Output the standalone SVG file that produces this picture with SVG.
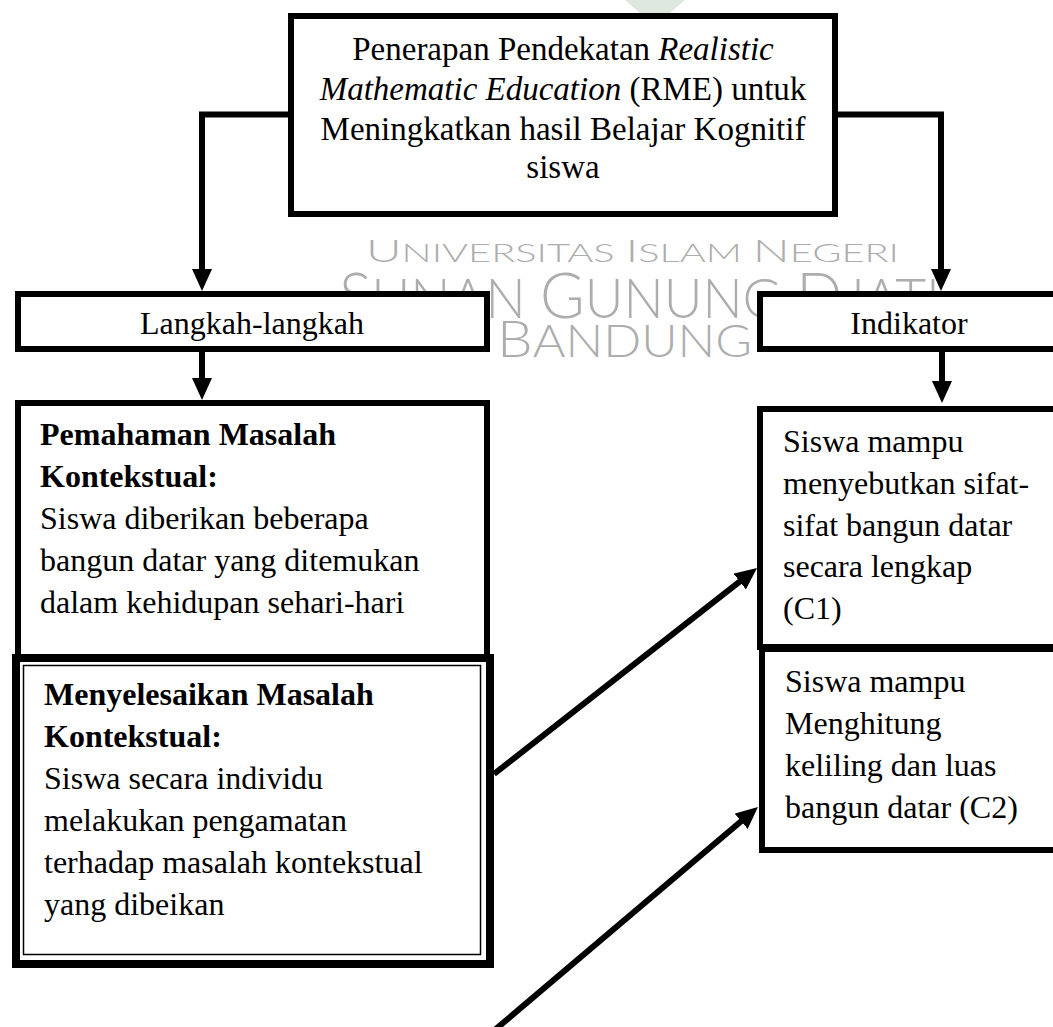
<svg xmlns="http://www.w3.org/2000/svg" width="1053" height="1027" viewBox="0 0 1053 1027">
<defs>
<style>
.box{fill:#fff;stroke:#000;stroke-width:6}
.thin{fill:none;stroke:#000;stroke-width:1.5}
.t{font-family:"Liberation Serif","Times New Roman",serif;font-size:32px;fill:#000}
.tt{font-size:33px}
.b{font-weight:bold}
.i{font-style:italic}
.c{text-anchor:middle}
.wm{font-family:Lato,"Liberation Sans",sans-serif;font-weight:300;fill:#adadad}
.conn{fill:none;stroke:#000;stroke-width:6;stroke-linejoin:miter}
</style>
<marker id="ah" markerUnits="userSpaceOnUse" markerWidth="22" markerHeight="20" refX="10" refY="10" orient="auto" viewBox="0 0 22 20"><path d="M0,0 L22,10 L0,20 z" fill="#000"/></marker>
</defs>
<rect width="1053" height="1027" fill="#fff"/>
<g id="watermark">
<path d="M625,0 H685 L670,13 H640 Z" fill="#dfe8df"/>
<text class="wm" x="366" y="262" textLength="533" lengthAdjust="spacingAndGlyphs"><tspan font-size="32">U</tspan><tspan font-size="26">NIVERSITAS </tspan><tspan font-size="32">I</tspan><tspan font-size="26">SLAM </tspan><tspan font-size="32">N</tspan><tspan font-size="26">EGERI</tspan></text>
<text class="wm" x="339" y="318" textLength="601" lengthAdjust="spacingAndGlyphs"><tspan font-size="64">S</tspan><tspan font-size="56">UNAN </tspan><tspan font-size="64">G</tspan><tspan font-size="56">UNUNG </tspan><tspan font-size="64">D</tspan><tspan font-size="56">JATI</tspan></text>
<text class="wm" x="497" y="357" textLength="255" lengthAdjust="spacingAndGlyphs"><tspan font-size="52">B</tspan><tspan font-size="46">ANDUNG</tspan></text>
</g>
<g id="node-judul">
<rect class="box" x="291" y="16" width="544" height="198"/>
<text class="t tt c" x="563" y="60">Penerapan Pendekatan <tspan class="i">Realistic</tspan></text>
<text class="t tt c" x="563" y="100"><tspan class="i">Mathematic Education</tspan> (RME) untuk</text>
<text class="t tt c" x="563" y="140">Meningkatkan hasil Belajar Kognitif</text>
<text class="t tt c" x="563" y="178">siswa</text>
</g>
<g id="node-langkah">
<rect class="box" x="18" y="294" width="469" height="55"/>
<text class="t c" x="252" y="334">Langkah-langkah</text>
</g>
<g id="node-indikator">
<rect class="box" x="760" y="294" width="300" height="55"/>
<text class="t c" x="909" y="334">Indikator</text>
</g>
<g id="node-pemahaman">
<rect class="box" x="18" y="403" width="469" height="254"/>
<text class="t b" x="40" y="445">Pemahaman Masalah</text>
<text class="t b" x="40" y="487">Kontekstual:</text>
<text class="t" x="40" y="529">Siswa diberikan beberapa</text>
<text class="t" x="40" y="571">bangun datar yang ditemukan</text>
<text class="t" x="40" y="613">dalam kehidupan sehari-hari</text>
</g>
<g id="node-menyelesaikan">
<rect class="box" x="16" y="658" width="474" height="306" style="stroke-width:8"/>
<rect class="thin" x="23.5" y="665.5" width="457" height="289"/>
<text class="t b" x="44" y="705">Menyelesaikan Masalah</text>
<text class="t b" x="44" y="747">Kontekstual:</text>
<text class="t" x="44" y="789">Siswa secara individu</text>
<text class="t" x="44" y="831">melakukan pengamatan</text>
<text class="t" x="44" y="873">terhadap masalah kontekstual</text>
<text class="t" x="44" y="915">yang dibeikan</text>
</g>
<g id="node-c2">
<rect class="box" x="762" y="649" width="300" height="201"/>
<text class="t" x="785" y="692">Siswa mampu</text>
<text class="t" x="785" y="734">Menghitung</text>
<text class="t" x="785" y="776">keliling dan luas</text>
<text class="t" x="785" y="818">bangun datar (C2)</text>
</g>
<g id="node-c1">
<rect class="box" x="760" y="409" width="300" height="238"/>
<text class="t" x="783" y="452">Siswa mampu</text>
<text class="t" x="783" y="494">menyebutkan sifat-</text>
<text class="t" x="783" y="536">sifat bangun datar</text>
<text class="t" x="783" y="577">secara lengkap</text>
<text class="t" x="783" y="619">(C1)</text>
</g>
<g id="connectors">
<path class="conn" d="M291,114.5 H202 V279" marker-end="url(#ah)"/>
<path class="conn" d="M835,114.5 H941 V279" marker-end="url(#ah)"/>
<path class="conn" d="M202,352 V388" marker-end="url(#ah)"/>
<path class="conn" d="M942,352 V391" marker-end="url(#ah)"/>
<path class="conn" d="M494,774 L747.6,575.4" marker-end="url(#ah)"/>
<path class="conn" d="M490,1034 L748.8,814.8" marker-end="url(#ah)"/>
</g>
</svg>
